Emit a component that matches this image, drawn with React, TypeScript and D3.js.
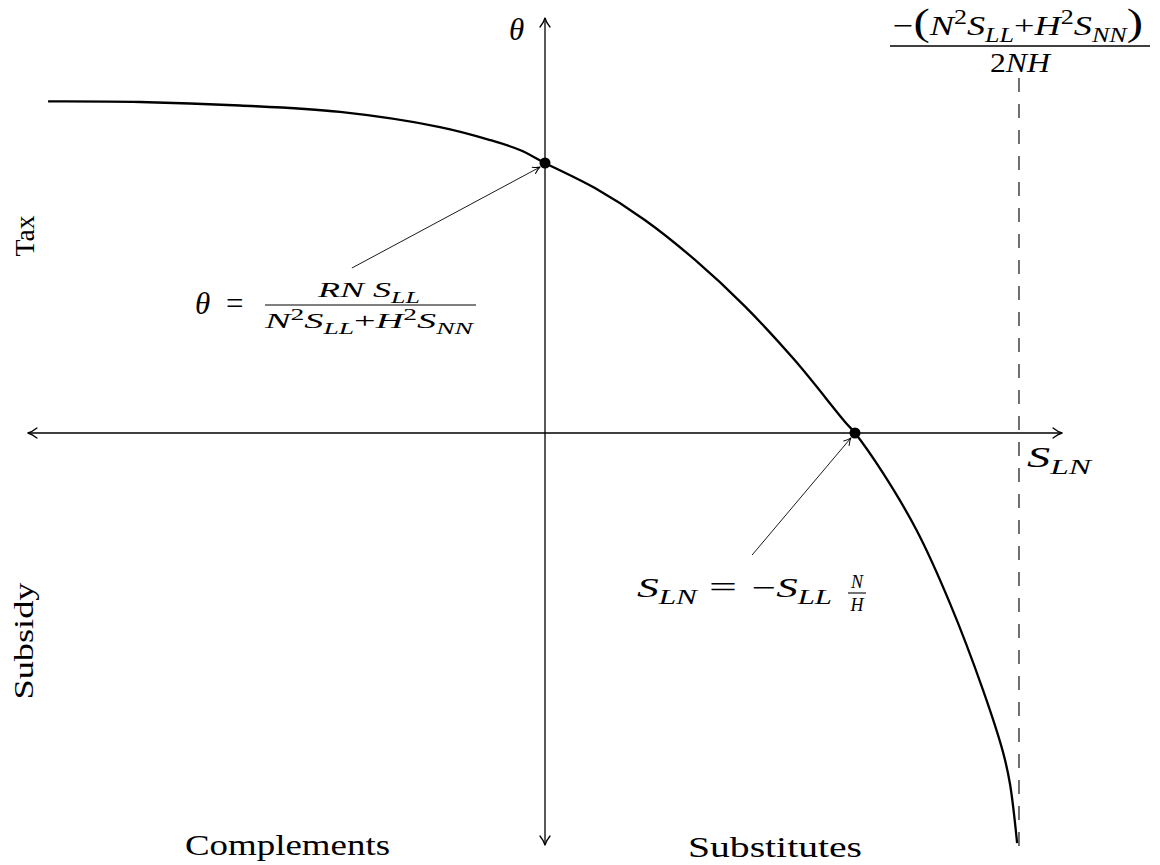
import React from 'react';
import * as d3 from 'd3';

// Curve: theta as a function of S_LN (data units: S_LN intercept = 1, theta intercept = 1)
const curveS = [-1.603, -1.306, -0.984, -0.661, -0.339, -0.177, -0.081, 0, 0.161, 0.323, 0.484, 0.645, 0.806, 0.968, 1, 1.09, 1.2, 1.306, 1.413, 1.477, 1.5, 1.523];
const curveTheta = [1.228, 1.226, 1.213, 1.189, 1.133, 1.085, 1.048, 1, 0.907, 0.788, 0.641, 0.469, 0.269, 0.041, 0, -0.148, -0.363, -0.63, -0.952, -1.18, -1.3, -1.519];
const axisS = [-1.668, 1.668];
const axisTheta = [-1.526, 1.537];
const asymptoteS = 1.529;
const asymptoteTheta = [-1.533, 1.315];
const markedS = [0, 1];
const markedTheta = [1, 0];
const calloutFromS = [-0.623, 0.668];
const calloutFromTheta = [0.611, -0.452];
const calloutToS = [-0.016, 0.987];
const calloutToTheta = [0.985, -0.018];

const MATH = "'Liberation Serif', 'Times New Roman', serif";

type Seg = { t: string; i?: boolean; s?: 'sub' | 'sup'; k?: number };

function spans(segs: Seg[], fs: number) {
  let cur = 0;
  return segs.map((sg, idx) => {
    const target = sg.s === 'sub' ? fs * 0.25 : sg.s === 'sup' ? -fs * 0.38 : 0;
    const dy = target - cur;
    cur = target;
    const size = sg.s ? fs * 0.72 : fs * (sg.k || 1);
    return (
      <tspan key={idx} dy={dy} fontStyle={sg.i ? 'italic' : 'normal'} fontSize={size}>
        {sg.t}
      </tspan>
    );
  });
}

function arrowHead(tx: number, ty: number, ang: number, l: number, w: number, sw: number) {
  const d = `M ${-l},${-w} C ${-l * 0.55},${-w * 0.35} ${-l * 0.2},${-w * 0.1} 0,0 C ${-l * 0.2},${w * 0.1} ${-l * 0.55},${w * 0.35} ${-l},${w}`;
  return (
    <path
      d={d}
      transform={`translate(${tx},${ty}) rotate(${(ang * 180) / Math.PI})`}
      fill="none"
      stroke="#000"
      strokeWidth={sw}
      strokeLinecap="round"
      strokeLinejoin="round"
    />
  );
}

export default function App() {
  const x = d3.scaleLinear().domain([0, 1]).range([545, 855]);
  const y = d3.scaleLinear().domain([0, 1]).range([433, 163]);

  const pts: [number, number][] = curveS.map((s, i) => [s, curveTheta[i]]);
  const line = d3
    .line<[number, number]>()
    .x((d) => x(d[0]))
    .y((d) => y(d[1]))
    .curve(d3.curveCatmullRom.alpha(0.5));

  const x0 = x(0);
  const y0 = y(0);

  return (
    <svg
      width={1160}
      height={865}
      style={{ position: 'absolute', left: 0, top: 0, background: '#fff' }}
      fontFamily={MATH}
    >
      {/* axes */}
      <line x1={x(axisS[0])} y1={y0} x2={x(axisS[1])} y2={y0} stroke="#000" strokeWidth={1.3} />
      <line x1={x0} y1={y(axisTheta[0])} x2={x0} y2={y(axisTheta[1])} stroke="#000" strokeWidth={1.3} />
      {arrowHead(x(axisS[1]), y0, 0, 9, 5, 1.3)}
      {arrowHead(x(axisS[0]), y0, Math.PI, 9, 5, 1.3)}
      {arrowHead(x0, y(axisTheta[1]), -Math.PI / 2, 9, 5, 1.3)}
      {arrowHead(x0, y(axisTheta[0]), Math.PI / 2, 9, 5, 1.3)}

      {/* asymptote */}
      <line
        x1={x(asymptoteS)}
        y1={y(asymptoteTheta[1])}
        x2={x(asymptoteS)}
        y2={y(asymptoteTheta[0])}
        stroke="#333"
        strokeWidth={1.4}
        strokeDasharray="14 12"
      />

      {/* curve */}
      <path d={line(pts) || ''} fill="none" stroke="#000" strokeWidth={2.3} strokeLinejoin="round" />

      {/* callout arrows */}
      {calloutFromS.map((s, i) => {
        const fx = x(s), fy = y(calloutFromTheta[i]);
        const tx = x(calloutToS[i]), ty = y(calloutToTheta[i]);
        const ang = Math.atan2(ty - fy, tx - fx);
        return (
          <g key={i}>
            <line x1={fx} y1={fy} x2={tx} y2={ty} stroke="#000" strokeWidth={0.9} />
            {arrowHead(tx, ty, ang, 7, 3.5, 1)}
          </g>
        );
      })}

      {/* marked points */}
      {markedS.map((s, i) => (
        <circle key={i} cx={x(s)} cy={y(markedTheta[i])} r={5.5} fill="#000" />
      ))}

      {/* axis labels */}
      <text x={509} y={40} fontSize={31} fontStyle="italic">θ</text>
      <text x={1027} y={467} fontSize={29} textLength={64} lengthAdjust="spacingAndGlyphs">
        {spans([{ t: 'S', i: true }, { t: 'LN', i: true, s: 'sub' }], 29)}
      </text>

      {/* side labels */}
      <text transform="translate(34,236) rotate(-90)" textAnchor="middle" fontSize={28} textLength={41} lengthAdjust="spacingAndGlyphs">Tax</text>
      <text transform="translate(33,641) rotate(-90)" textAnchor="middle" fontSize={28} textLength={117} lengthAdjust="spacingAndGlyphs">Subsidy</text>
      <text x={185} y={855} fontSize={29} textLength={205} lengthAdjust="spacingAndGlyphs">Complements</text>
      <text x={688} y={857} fontSize={29} textLength={174} lengthAdjust="spacingAndGlyphs">Substitutes</text>

      {/* asymptote formula */}
      <text x={893} y={35} fontSize={28} textLength={250} lengthAdjust="spacingAndGlyphs">
        {spans(
          [
            { t: '−' },
            { t: '(', k: 1.35 },
            { t: 'N', i: true },
            { t: '2', s: 'sup' },
            { t: 'S', i: true },
            { t: 'LL', i: true, s: 'sub' },
            { t: '+' },
            { t: 'H', i: true },
            { t: '2', s: 'sup' },
            { t: 'S', i: true },
            { t: 'NN', i: true, s: 'sub' },
            { t: ')', k: 1.35 },
          ],
          28
        )}
      </text>
      <line x1={890} y1={46} x2={1150} y2={46} stroke="#000" strokeWidth={1.3} />
      <text x={990} y={72} fontSize={27} textLength={60} lengthAdjust="spacingAndGlyphs">
        {spans([{ t: '2' }, { t: 'NH', i: true }], 27)}
      </text>

      {/* theta formula */}
      <text x={195} y={314} fontSize={31} fontStyle="italic">θ</text>
      <text x={226} y={314} fontSize={31}>=</text>
      <line x1={265} y1={305} x2={476} y2={305} stroke="#000" strokeWidth={1.2} />
      <text x={318} y={297} fontSize={22} textLength={102} lengthAdjust="spacingAndGlyphs">
        {spans([{ t: 'RN', i: true }, { t: ' S', i: true }, { t: 'LL', i: true, s: 'sub' }], 22)}
      </text>
      <text x={265} y={328} fontSize={22} textLength={208} lengthAdjust="spacingAndGlyphs">
        {spans(
          [
            { t: 'N', i: true },
            { t: '2', s: 'sup' },
            { t: 'S', i: true },
            { t: 'LL', i: true, s: 'sub' },
            { t: '+' },
            { t: 'H', i: true },
            { t: '2', s: 'sup' },
            { t: 'S', i: true },
            { t: 'NN', i: true, s: 'sub' },
          ],
          22
        )}
      </text>

      {/* S_LN formula */}
      <text x={637} y={597} fontSize={28} textLength={60} lengthAdjust="spacingAndGlyphs">
        {spans([{ t: 'S', i: true }, { t: 'LN', i: true, s: 'sub' }], 28)}
      </text>
      <text x={709} y={597} fontSize={30} textLength={28} lengthAdjust="spacingAndGlyphs">=</text>
      <text x={752} y={597} fontSize={28} textLength={80} lengthAdjust="spacingAndGlyphs">
        {spans([{ t: '−' }, { t: 'S', i: true }, { t: 'LL', i: true, s: 'sub' }], 28)}
      </text>
      <line x1={848} y1={593} x2={866} y2={593} stroke="#000" strokeWidth={1.1} />
      <text x={857} y={588} fontSize={18} fontStyle="italic" textAnchor="middle">N</text>
      <text x={857} y={611} fontSize={18} fontStyle="italic" textAnchor="middle">H</text>
    </svg>
  );
}
